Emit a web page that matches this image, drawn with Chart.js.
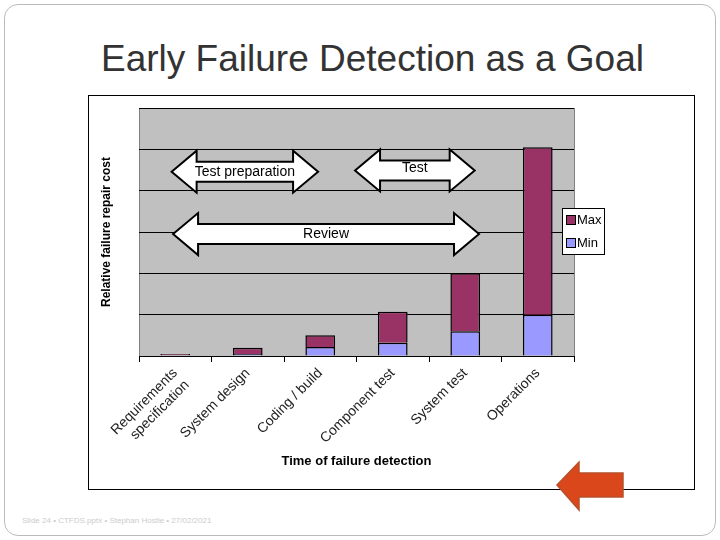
<!DOCTYPE html>
<html>
<head>
<meta charset="utf-8">
<script src="https://cdn.jsdelivr.net/npm/chart.js@4.4.0/dist/chart.umd.min.js"></script>
<style>
  body { margin: 0; width: 720px; height: 540px; background: #fff; font-family: Arial, "Liberation Sans", sans-serif; position: relative; overflow: hidden; }
  #slide { position: absolute; left: 4px; top: 4px; width: 710px; height: 530px; border: 1px solid #bbb; border-radius: 14px; }
  #title { position: absolute; left: 0; width: 745px; top: 38px; text-align: center; font-size: 37px; color: #333; }
  #box { position: absolute; left: 88px; top: 95px; width: 605px; height: 393px; border: 1px solid #000; background: #fff; }
  #footer { position: absolute; left: 22px; top: 516px; font-size: 8px; color: #ccc; }
  #orange { position: absolute; left: 555px; top: 460px; }
</style>
</head>
<body>
<div id="slide"></div>
<div id="title">Early Failure Detection as a Goal</div>
<div id="box"><canvas id="costChart" width="605" height="393"></canvas></div>
<div id="footer">Slide 24 • CTFDS.pptx • Stephan Hostie • 27/02/2021</div>
<svg id="orange" width="72" height="54">
  <polygon points="2,25 24,2 24,13 68,13 68,37 24,37 24,50" fill="#d9471a" stroke="#b8502a" stroke-width="1.5"/>
</svg>
<script>
const categories = [['Requirements', 'specification'], 'System design', 'Coding / build', 'Component test', 'System test', 'Operations'];
const minValues = [0.02, 0.05, 0.22, 0.32, 0.6, 1.0];
const maxValues = [0.03, 0.15, 0.28, 0.75, 1.4, 4.05];

// arrow annotations: x range in category index, y in value units
const arrowLabels = ['Test preparation', 'Test', 'Review'];
const arrowFrom = [-0.05, 2.48, -0.03];
const arrowTo = [1.97, 4.13, 4.19];
const arrowY = [4.46, 4.49, 2.95];

const plotBackground = {
    id: 'plotBackground',
    beforeDraw(chart) {
        const { ctx, chartArea: a } = chart;
        ctx.save();
        ctx.fillStyle = '#c0c0c0';
        ctx.fillRect(a.left, a.top, a.right - a.left, a.bottom - a.top);
        ctx.strokeStyle = '#808080';
        ctx.lineWidth = 1;
        ctx.strokeRect(a.left + 0.5, a.top + 0.5, a.right - a.left, a.bottom - a.top);
        ctx.restore();
    }
};

const annotations = {
    id: 'annotations',
    afterDatasetsDraw(chart) {
        const { ctx, scales: { x, y } } = chart;
        const step = x.getPixelForValue(1) - x.getPixelForValue(0);
        ctx.save();
        arrowLabels.forEach((label, i) => {
            const x0 = x.getPixelForValue(0) + arrowFrom[i] * step;
            const x1 = x.getPixelForValue(0) + arrowTo[i] * step;
            const cy = y.getPixelForValue(arrowY[i]);
            const head = 25, hb = 10, hh = 21;
            ctx.beginPath();
            ctx.moveTo(x0, cy);
            ctx.lineTo(x0 + head, cy - hh);
            ctx.lineTo(x0 + head, cy - hb);
            ctx.lineTo(x1 - head, cy - hb);
            ctx.lineTo(x1 - head, cy - hh);
            ctx.lineTo(x1, cy);
            ctx.lineTo(x1 - head, cy + hh);
            ctx.lineTo(x1 - head, cy + hb);
            ctx.lineTo(x0 + head, cy + hb);
            ctx.lineTo(x0 + head, cy + hh);
            ctx.closePath();
            ctx.fillStyle = '#fff';
            ctx.fill();
            ctx.strokeStyle = '#000';
            ctx.lineWidth = 2;
            ctx.stroke();
            ctx.fillStyle = '#000';
            ctx.font = '14px Arial';
            ctx.textAlign = 'center';
            ctx.textBaseline = 'middle';
            ctx.fillText(label, (x0 + x1) / 2, i === 1 ? cy - 2 : cy);
        });
        // legend
        const lx = 473, ly = 112;
        ctx.fillStyle = '#fff';
        ctx.fillRect(lx, ly, 42, 46);
        ctx.strokeStyle = '#000';
        ctx.lineWidth = 1;
        ctx.strokeRect(lx + 0.5, ly + 0.5, 42, 46);
        [['Max', '#993366', 12], ['Min', '#9999ff', 35]].forEach(([t, c, dy]) => {
            ctx.fillStyle = c;
            ctx.fillRect(lx + 4, ly + dy - 5, 9, 9);
            ctx.strokeRect(lx + 4.5, ly + dy - 4.5, 9, 9);
            ctx.fillStyle = '#000';
            ctx.font = '13px Arial';
            ctx.textAlign = 'left';
            ctx.textBaseline = 'middle';
            ctx.fillText(t, lx + 15, ly + dy);
        });
        ctx.restore();
    }
};

new Chart(document.getElementById('costChart'), {
    type: 'bar',
    data: {
        labels: categories,
        datasets: [
            { label: 'Min', data: minValues, backgroundColor: '#9999ff', borderColor: '#000', borderWidth: 1.5, categoryPercentage: 1, barPercentage: 0.41 },
            { label: 'Max', data: maxValues, backgroundColor: '#993366', borderColor: '#000', borderWidth: 1.5, categoryPercentage: 1, barPercentage: 0.41 }
        ]
    },
    options: {
        responsive: false,
        animation: false,
        layout: { padding: { top: 12, right: 120, left: 0, bottom: 0 } },
        plugins: { legend: { display: false }, tooltip: { enabled: false } },
        scales: {
            x: {
                stacked: true,
                afterFit: (s) => { s.height = 133; },
                grid: { display: true, drawOnChartArea: false, color: '#000', tickLength: 6, offset: true },
                border: { color: '#000' },
                ticks: { color: '#222', font: { size: 14, family: 'Arial' }, minRotation: 45, maxRotation: 45, autoSkip: false },
                title: { display: true, text: 'Time of failure detection', color: '#000', font: { size: 13, weight: 'bold', family: 'Arial' }, padding: { top: 0, bottom: 20 } }
            },
            y: {
                stacked: true,
                min: 0, max: 6,
                afterFit: (s) => { s.width = 50; },
                ticks: { display: false, stepSize: 1 },
                grid: { color: '#000', drawTicks: false },
                border: { display: false },
                title: { display: true, text: 'Relative failure repair cost', color: '#000', font: { size: 12, weight: 'bold', family: 'Arial' }, padding: { top: 10, bottom: 0 } }
            }
        }
    },
    plugins: [plotBackground, annotations]
});
</script>
</body>
</html>
